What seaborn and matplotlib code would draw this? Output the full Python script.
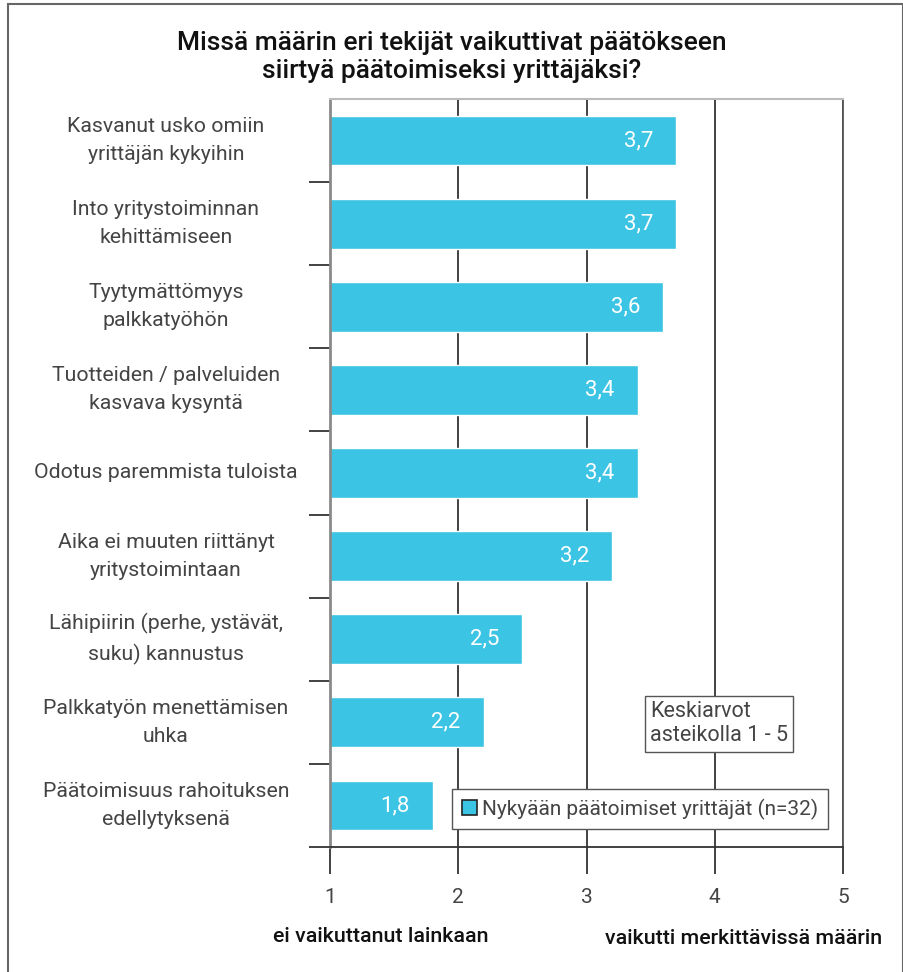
import pandas as pd
import matplotlib.pyplot as plt
import matplotlib.transforms as mtransforms
from matplotlib.patches import Rectangle
import seaborn as sns

# data
factors = [
    "Kasvanut usko omiin\nyrittäjän kykyihin",
    "Into yritystoiminnan\nkehittämiseen",
    "Tyytymättömyys\npalkkatyöhön",
    "Tuotteiden / palveluiden\nkasvava kysyntä",
    "Odotus paremmista tuloista",
    "Aika ei muuten riittänyt\nyritystoimintaan",
    "Lähipiirin (perhe, ystävät,\nsuku) kannustus",
    "Palkkatyön menettämisen\nuhka",
    "Päätoimisuus rahoituksen\nedellytyksenä",
]
means = [3.7, 3.7, 3.6, 3.4, 3.4, 3.2, 2.5, 2.2, 1.8]
series_name = "Nykyään päätoimiset yrittäjät (n=32)"
x_ticks = [1, 2, 3, 4, 5]
title = "Missä määrin eri tekijät vaikuttivat päätökseen\nsiirtyä päätoimiseksi yrittäjäksi?"
low_label = "ei vaikuttanut lainkaan"
high_label = "vaikutti merkittävissä määrin"
note = "Keskiarvot\nasteikolla 1 - 5"

bar_col = "#3CC4E4"
txt_col = "#444444"

sns.set_theme(style="white")
plt.rcParams['font.family'] = ['Roboto', 'DejaVu Sans']

df = pd.DataFrame({"factor": factors, "mean": means, "group": series_name})

W, H = 904, 972
fig = plt.figure(figsize=(W / 100, H / 100), dpi=100)
ax = fig.add_axes([330 / W, 1 - 847 / H, (843 - 330) / W, (847 - 99) / H])

sns.barplot(data=df, y="factor", x="mean", hue="group", palette=[bar_col],
            width=0.6, saturation=1, ax=ax, legend=False)

ax.set_xlim(1, 5)
ax.set_ylim(len(factors) - 0.5, -0.5)
ax.set_xlabel("")
ax.set_ylabel("")

# grid + ticks
ax.set_axisbelow(True)
ax.set_xticks(x_ticks)
ax.grid(axis='x', color='#333333', lw=1.3)
ax.tick_params(axis='x', bottom=True, length=19.5, width=1.3, color='#333333',
               pad=10, labelsize=15, labelcolor=txt_col)
ax.xaxis.get_major_ticks()[0].tick1line.set_color('#8a8a8a')

ax.set_yticks([i + 0.5 for i in range(len(factors))], minor=True)
ax.tick_params(axis='y', which='major', length=0, labelleft=False)
ax.tick_params(axis='y', which='minor', left=True, length=15, width=1.2, color='#222222')

for side in ['top', 'bottom', 'left', 'right']:
    ax.spines[side].set_visible(True)
ax.spines['left'].set_color('#8a8a8a')
ax.spines['left'].set_linewidth(2)
ax.spines['top'].set_color('#bbbbbb')
ax.spines['top'].set_linewidth(1.5)
ax.spines['bottom'].set_color('#333333')
ax.spines['bottom'].set_linewidth(1.3)
ax.spines['right'].set_color('#555555')
ax.spines['right'].set_linewidth(1.3)

# category labels centred in the left margin
trans = mtransforms.blended_transform_factory(fig.transFigure, ax.transData)
for i, f in enumerate(factors):
    ax.text(166 / W, i, f, transform=trans, ha='center', va='center',
            fontsize=15.3, color=txt_col, linespacing=1.6)

# values inside bars
for i, v in enumerate(means):
    ax.text(v - 0.18, i, f"{v:.1f}".replace('.', ','), ha='right', va='center',
            color='white', fontsize=16)

# legend
leg_patch = Rectangle((0, 0), 1, 1, facecolor=bar_col, edgecolor='#222222', lw=1.2)
leg = ax.legend([leg_patch], [series_name], loc='lower right',
                bbox_to_anchor=(828 / W, 1 - 829 / H), bbox_transform=fig.transFigure,
                borderaxespad=0, fancybox=False, framealpha=1, edgecolor='#555555',
                handlelength=0.75, handleheight=0.75, handletextpad=0.25,
                prop={'size': 15}, borderpad=0.45)
leg.get_frame().set_linewidth(1.0)
for t in leg.get_texts():
    t.set_color(txt_col)

# note box
fig.text(650 / W, 1 - 701 / H, note, ha='left', va='top', fontsize=15.5,
         color=txt_col, linespacing=1.2,
         bbox=dict(boxstyle='square,pad=0.25', fc='white', ec='#555555', lw=1.0))

# title and axis end labels
fig.text(0.5, 1 - 57 / H, title, ha='center', va='center', fontsize=19,
         fontweight='medium', color='#111111', linespacing=1.2)
fig.text(273 / W, 1 - 936 / H, low_label, ha='left', va='center', fontsize=15.4,
         fontweight='medium', color='#111111')
fig.text(882 / W, 1 - 938 / H, high_label, ha='right', va='center', fontsize=15.4,
         fontweight='medium', color='#111111')

# outer frame
fig.add_artist(Rectangle((7.5 / W, -0.02), (903 - 7.5) / W, 1.02 - 4 / H,
                         transform=fig.transFigure, fill=False, ec='#666666', lw=1.5))

fig.savefig('out.png', dpi=100)
